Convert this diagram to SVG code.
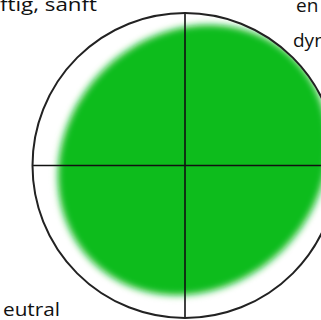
<svg xmlns="http://www.w3.org/2000/svg" width="321" height="320" viewBox="0 0 321 320">
<style>
.lbl{font-family:"Open Sans",Lato,"Noto Sans",sans-serif;font-size:19px;fill:#111}
.ax{stroke:#111;stroke-width:1.6;fill:none}
.rim{stroke:#222;stroke-width:2;fill:none}
</style>
<defs>
<clipPath id="cc"><circle cx="185" cy="165.5" r="152.5"/></clipPath>
<filter id="bl" x="-20%" y="-20%" width="140%" height="140%"><feGaussianBlur stdDeviation="3.5"/></filter>
</defs>
<rect width="321" height="320" fill="#fff"/>
<g id="field" clip-path="url(#cc)">
<ellipse cx="193" cy="160" rx="143" ry="127" transform="rotate(-45 193 160)" fill="#0cbc1f" filter="url(#bl)"/>
</g>
<g id="connectors">
<line class="ax" x1="185" y1="13" x2="185" y2="318"/>
<line class="ax" x1="32" y1="165.5" x2="338" y2="165.5"/>
</g>
<g id="circle"><circle class="rim" cx="185" cy="165.5" r="152.5"/></g>
<g id="labels">
<text class="lbl" x="0" y="11" textLength="97" lengthAdjust="spacingAndGlyphs">ftig, sanft</text>
<text class="lbl" x="296" y="12">en</text>
<text class="lbl" x="293" y="47">dyn</text>
<text class="lbl" x="3" y="316" textLength="57" lengthAdjust="spacingAndGlyphs">eutral</text>
</g>
</svg>
